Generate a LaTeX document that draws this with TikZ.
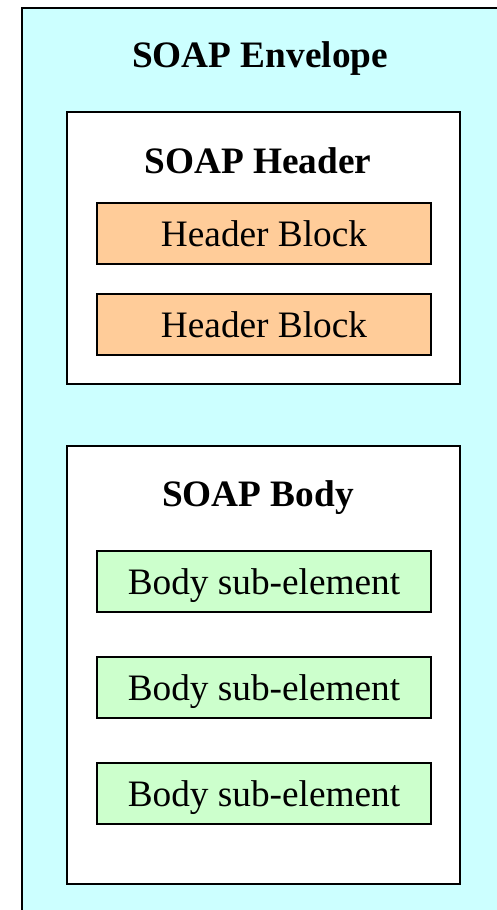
\documentclass[tikz,border=0pt]{standalone}
\usepackage{fontspec}
\setmainfont{Liberation Serif}
\definecolor{envcyan}{HTML}{CCFFFF}
\definecolor{hdrorange}{HTML}{FFCC99}
\definecolor{bodygreen}{HTML}{CCFFCC}
\tikzset{
  container/.style={draw=black, line width=2pt, fill=white, minimum width=393pt, inner sep=0pt},
  blockbox/.style={draw=black, line width=2pt, minimum width=334pt, minimum height=61pt, inner sep=0pt,
    font=\fontsize{37.3}{41}\selectfont, text height=25.5pt, text depth=0pt},
  hdrblock/.style={blockbox, fill=hdrorange},
  bodyblock/.style={blockbox, fill=bodygreen},
  title/.style={anchor=base, inner sep=0pt, font=\fontsize{37.3}{41}\selectfont\bfseries}
}
\begin{document}
\begin{tikzpicture}[x=1pt, y=-1pt]
  \useasboundingbox (0,0) rectangle (497,910);
  \clip (0,0) rectangle (497,910);
  % envelope
  \node[draw=black, line width=2pt, fill=envcyan, anchor=north west, minimum width=540pt, minimum height=960pt, inner sep=0pt] (env) at (21,7) {};
  \node[title] (envtitle) at (260,67) {SOAP Envelope};
  % header
  \node[container, minimum height=272pt] (hdr) at (263.5,248) {};
  \node[title] (hdrtitle) at (258,173) {SOAP Header};
  \node[hdrblock] (hb1) at (264,233.5) {Header Block};
  \node[hdrblock] (hb2) at (264,324.5) {Header Block};
  % body
  \node[container, minimum height=438pt] (body) at (263.5,665) {};
  \node[title] (bodytitle) at (258,506) {SOAP Body};
  \node[bodyblock] (bs1) at (264,581.5) {Body sub-element};
  \node[bodyblock] (bs2) at (264,687.5) {Body sub-element};
  \node[bodyblock] (bs3) at (264,793.5) {Body sub-element};
\end{tikzpicture}
\end{document}
